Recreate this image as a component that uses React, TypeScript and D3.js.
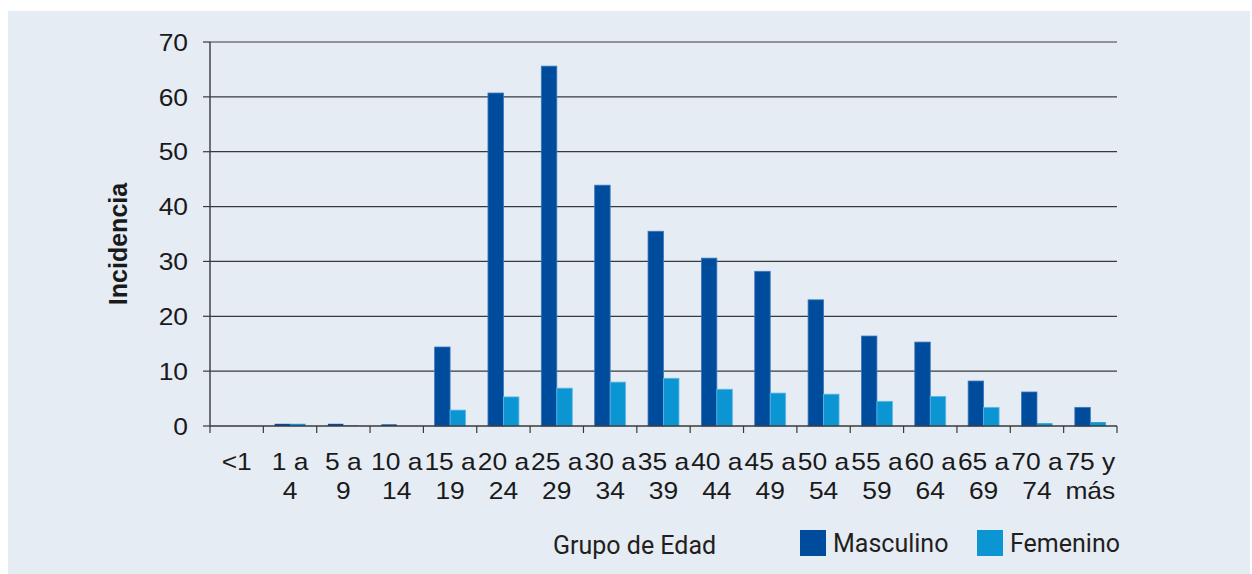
import React, { useEffect, useRef } from "react";
import * as d3 from "d3";

const groups = ["<1", "1-4", "5-9", "10-14", "15-19", "20-24", "25-29", "30-34", "35-39", "40-44", "45-49", "50-54", "55-59", "60-64", "65-69", "70-74", "75+"];
const labelTop = ["<1", "1 a", "5 a", "10 a", "15 a", "20 a", "25 a", "30 a", "35 a", "40 a", "45 a", "50 a", "55 a", "60 a", "65 a", "70 a", "75 y"];
const labelBottom = ["", "4", "9", "14", "19", "24", "29", "34", "39", "44", "49", "54", "59", "64", "69", "74", "más"];
const masculino = [0, 0.4, 0.4, 0.3, 14.4, 60.7, 65.6, 43.9, 35.5, 30.6, 28.2, 23.0, 16.4, 15.3, 8.2, 6.2, 3.4];
const femenino = [0, 0.4, 0.1, 0, 2.9, 5.3, 6.9, 8.0, 8.7, 6.7, 6.0, 5.8, 4.5, 5.4, 3.4, 0.5, 0.7];
const yTicks = [0, 10, 20, 30, 40, 50, 60, 70];

const W = 1252;
const H = 574;
const tickFont = "Liberation Sans, Arial, sans-serif";

export default function App() {
  const ref = useRef<SVGSVGElement>(null);

  useEffect(() => {
    const svg = d3.select(ref.current);
    svg.selectAll("*").remove();

    const left = 210, right = 1117, top = 42, bottom = 426;
    const stretch = 1.1;

    // panel background
    svg.append("rect").attr("x", 8).attr("y", 11).attr("width", W - 10).attr("height", H - 11).attr("fill", "#e6ecf4");

    const x = d3.scaleBand().domain(groups).range([left, right]).padding(0);
    const bw = x.bandwidth();
    const sub = d3.scaleBand().domain(["m", "f"]).range([bw * 0.21, bw * 0.79]).padding(0);
    const y = d3.scaleLinear().domain([0, 70]).range([bottom, top]);

    // gridlines + y ticks
    const g = svg.append("g");
    yTicks.forEach(t => {
      if (t > 0) {
        g.append("line").attr("x1", left).attr("x2", right).attr("y1", y(t)).attr("y2", y(t))
          .attr("stroke", "#3a3a3a").attr("stroke-width", 1.2);
      }
      g.append("line").attr("x1", left - 7).attr("x2", left).attr("y1", y(t)).attr("y2", y(t))
        .attr("stroke", "#3a3a3a").attr("stroke-width", 1.2);
      g.append("text").attr("transform", `translate(188,${y(t)}) scale(${stretch},1)`).attr("dy", "0.36em")
        .attr("text-anchor", "end").attr("font-family", tickFont)
        .attr("font-size", 24).attr("fill", "#1a1a1a").text(t);
    });

    // bars
    const series = [
      { key: "m", values: masculino, color: "#004c9c", edge: "#3b78c0" },
      { key: "f", values: femenino, color: "#0c95d3", edge: "#5cb8e6" },
    ];
    series.forEach(s => {
      svg.append("g").selectAll("rect").data(s.values).enter().append("rect")
        .attr("x", (d, i) => (x(groups[i]) as number) + (sub(s.key) as number))
        .attr("y", d => y(d))
        .attr("width", sub.bandwidth())
        .attr("height", d => bottom - y(d))
        .attr("fill", s.color)
        .attr("stroke", d => (d > 1 ? s.edge : "none"))
        .attr("stroke-width", 0.8);
    });

    // axes lines
    svg.append("line").attr("x1", left).attr("x2", left).attr("y1", top).attr("y2", bottom)
      .attr("stroke", "#3a3a3a").attr("stroke-width", 1.4);
    svg.append("line").attr("x1", left).attr("x2", right).attr("y1", bottom).attr("y2", bottom)
      .attr("stroke", "#3a3a3a").attr("stroke-width", 1.4);
    d3.range(groups.length + 1).forEach(i => {
      const xx = left + i * bw;
      svg.append("line").attr("x1", xx).attr("x2", xx).attr("y1", bottom).attr("y2", bottom + 7)
        .attr("stroke", "#3a3a3a").attr("stroke-width", 1.2);
    });

    // x labels
    const xl = svg.append("g").attr("font-family", tickFont)
      .attr("font-size", 24).attr("fill", "#1a1a1a").attr("text-anchor", "middle");
    groups.forEach((gr, i) => {
      const cx = (x(gr) as number) + bw / 2;
      xl.append("text").attr("transform", `translate(${cx},470) scale(${stretch},1)`).text(labelTop[i]);
      if (labelBottom[i]) xl.append("text").attr("transform", `translate(${cx},499) scale(${stretch},1)`).text(labelBottom[i]);
    });

    // y title
    svg.append("text").attr("transform", "translate(127,244) rotate(-90)")
      .attr("text-anchor", "middle").attr("font-family", tickFont)
      .attr("font-weight", "bold").attr("font-size", 25).attr("fill", "#1a1a1a").text("Incidencia");

    // x title + legend
    const lf = "Roboto, sans-serif";
    svg.append("text").attr("x", 553).attr("y", 554).attr("font-family", lf).attr("font-size", 25)
      .attr("fill", "#231f20").text("Grupo de Edad");
    const legend = [
      { name: "Masculino", color: "#004c9c", x: 800 },
      { name: "Femenino", color: "#0c95d3", x: 977 },
    ];
    legend.forEach(l => {
      svg.append("rect").attr("x", l.x).attr("y", 530).attr("width", 26).attr("height", 26).attr("fill", l.color);
      svg.append("text").attr("x", l.x + 33).attr("y", 552).attr("font-family", lf).attr("font-size", 25)
        .attr("fill", "#231f20").text(l.name);
    });
  }, []);

  return (
    <svg ref={ref} width={W} height={H}
      style={{ position: "absolute", left: 0, top: 0, background: "#ffffff" }} />
  );
}
